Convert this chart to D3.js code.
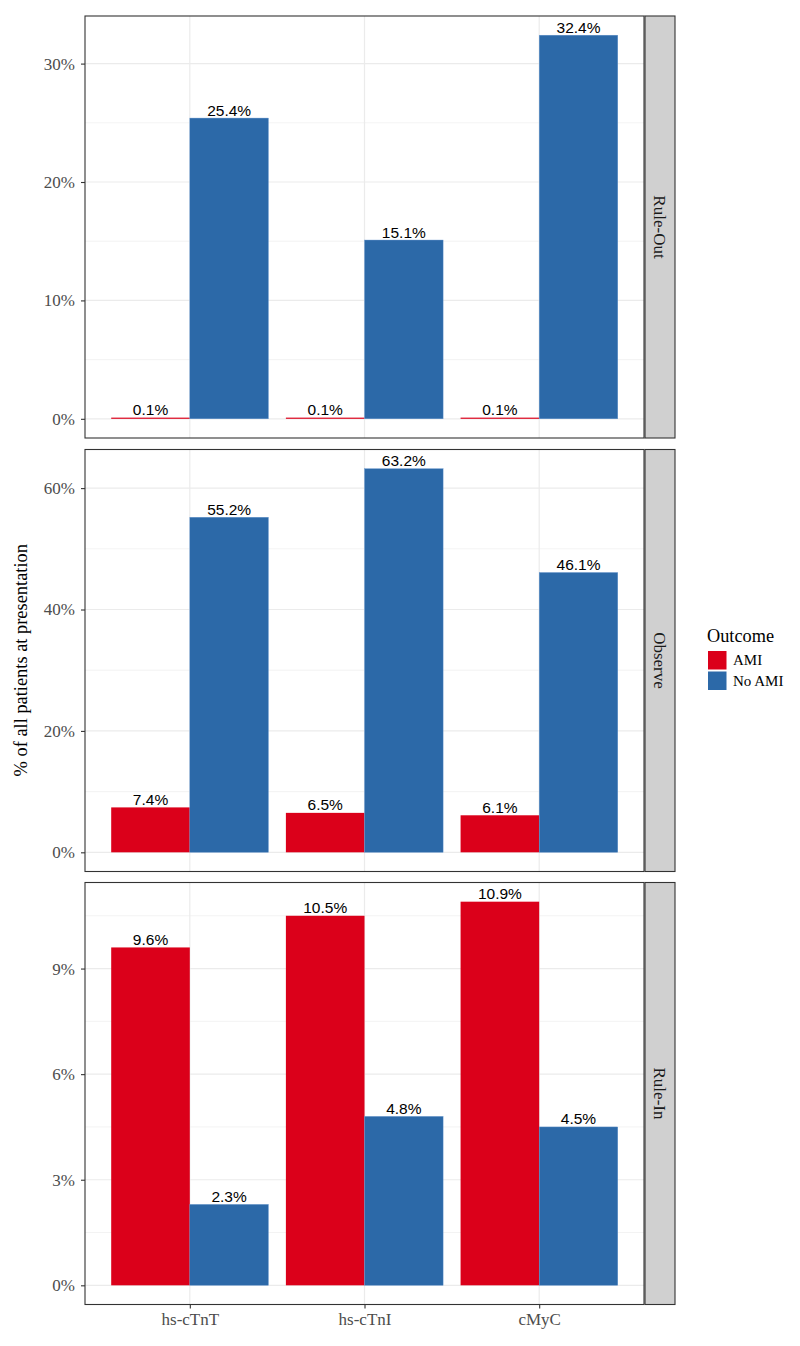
<!DOCTYPE html>
<html><head><meta charset="utf-8">
<script src="https://cdn.jsdelivr.net/npm/d3@7"></script>
<style>body{margin:0;background:#fff}</style>
</head><body>
<script>
const categories = ["hs-cTnT", "hs-cTnI", "cMyC"];
const panels = ["Rule-Out", "Observe", "Rule-In"];
const outcomes = ["AMI", "No AMI"];
const ruleOutAMI = [0.1, 0.1, 0.1];
const ruleOutNoAMI = [25.4, 15.1, 32.4];
const observeAMI = [7.4, 6.5, 6.1];
const observeNoAMI = [55.2, 63.2, 46.1];
const ruleInAMI = [9.6, 10.5, 10.9];
const ruleInNoAMI = [2.3, 4.8, 4.5];
const majorTicks = [[0, 10, 20, 30], [0, 20, 40, 60], [0, 3, 6, 9]];
const minorTicks = [[5, 15, 25], [10, 30, 50], [1.5, 4.5, 7.5, 10.5]];
const colors = ["#DB001A", "#2C69A8"];

const panelData = [
  [ruleOutAMI, ruleOutNoAMI],
  [observeAMI, observeNoAMI],
  [ruleInAMI, ruleInNoAMI]
];

const W = 800, H = 1346;
const serif = "Liberation Serif, Times New Roman, serif";
const svg = d3.select("body").append("svg").attr("width", W).attr("height", H);
const left = 85, right = 644, stripW = 31;
const panelTops = [16, 449.5, 882.5];
const panelH = 422;

// ggplot discrete: expand 0.6 units each side
const unit = (right - left) / 3.2;
const xc = d3.scalePoint().domain(categories).range([left + 0.6 * unit, right - 0.6 * unit]);
const barW = 0.45 * unit;

panelData.forEach((series, pi) => {
  const top = panelTops[pi];
  const maxV = d3.max(series.flat());
  const ex = maxV * 0.05;
  const y = d3.scaleLinear().domain([-ex, maxV + ex]).range([top + panelH, top]);
  const g = svg.append("g");
  g.append("rect").attr("x", left).attr("y", top).attr("width", right - left).attr("height", panelH).attr("fill", "#fff");
  g.selectAll(".minor").data(minorTicks[pi]).join("line")
    .attr("x1", left).attr("x2", right).attr("y1", d => y(d)).attr("y2", d => y(d))
    .attr("stroke", "#ebebeb").attr("stroke-width", 0.6);
  g.selectAll(".major").data(majorTicks[pi]).join("line")
    .attr("x1", left).attr("x2", right).attr("y1", d => y(d)).attr("y2", d => y(d))
    .attr("stroke", "#ebebeb").attr("stroke-width", 1.2);
  g.selectAll(".vgrid").data(categories).join("line")
    .attr("x1", d => xc(d)).attr("x2", d => xc(d)).attr("y1", top).attr("y2", top + panelH)
    .attr("stroke", "#ebebeb").attr("stroke-width", 1.2);
  series.forEach((vals, si) => {
    g.selectAll(".bar" + si).data(vals).join("rect")
      .attr("x", (d, i) => xc(categories[i]) + (si === 0 ? -barW : 0))
      .attr("width", barW)
      .attr("y", d => y(d))
      .attr("height", d => y(0) - y(d))
      .attr("fill", colors[si])
      .attr("stroke", si === 1 ? "#6a9ad0" : "none").attr("stroke-width", 0.4);
    g.selectAll(".lab" + si).data(vals).join("text")
      .attr("x", (d, i) => xc(categories[i]) + (si === 0 ? -barW / 2 : barW / 2))
      .attr("y", d => y(d) - 2.5)
      .attr("text-anchor", "middle")
      .attr("font-family", "Liberation Sans, Arial, sans-serif")
      .attr("font-size", 15.5).attr("fill", "#000")
      .text(d => d.toFixed(1) + "%");
  });
  g.append("rect").attr("x", left).attr("y", top).attr("width", right - left).attr("height", panelH)
    .attr("fill", "none").attr("stroke", "#333").attr("stroke-width", 1.1);
  g.append("rect").attr("x", right + 1).attr("y", top).attr("width", stripW - 1).attr("height", panelH)
    .attr("fill", "#d0d0d0").attr("stroke", "#333").attr("stroke-width", 1.1);
  g.append("text")
    .attr("transform", `translate(${right + 1 + (stripW - 1) / 2},${top + panelH / 2}) rotate(90)`)
    .attr("text-anchor", "middle").attr("dy", "0.33em")
    .attr("font-family", serif).attr("font-size", 17).attr("fill", "#1a1a1a")
    .text(panels[pi]);
  const ax = g.append("g").attr("transform", `translate(${left},0)`)
    .call(d3.axisLeft(y).tickValues(majorTicks[pi]).tickFormat(d => d + "%").tickSize(4).tickPadding(6));
  ax.select(".domain").remove();
  ax.selectAll(".tick line").attr("stroke", "#333").attr("stroke-width", 1.1);
  ax.selectAll(".tick text").attr("font-family", serif)
    .attr("font-size", 17).attr("fill", "#4d4d4d");
  if (pi === 2) {
    const xa = g.append("g").attr("transform", `translate(0,${top + panelH})`)
      .call(d3.axisBottom(xc).tickSize(4).tickPadding(4));
    xa.select(".domain").remove();
    xa.selectAll(".tick line").attr("stroke", "#333").attr("stroke-width", 1.1);
    xa.selectAll(".tick text").attr("font-family", serif)
      .attr("font-size", 17).attr("fill", "#4d4d4d");
  }
});

svg.append("text")
  .attr("transform", `translate(27,${(panelTops[0] + panelTops[2] + panelH) / 2}) rotate(-90)`)
  .attr("text-anchor", "middle")
  .attr("font-family", serif).attr("font-size", 18.4).attr("fill", "#000")
  .text("% of all patients at presentation");

const lg = svg.append("g").attr("transform", "translate(707,0)");
lg.append("text").attr("x", 0).attr("y", 642)
  .attr("font-family", serif).attr("font-size", 18.3).attr("fill", "#000")
  .text("Outcome");
outcomes.forEach((o, i) => {
  lg.append("rect").attr("x", 1).attr("y", 651 + i * 20.5).attr("width", 18.5).attr("height", 18.5).attr("fill", colors[i]);
  lg.append("text").attr("x", 26).attr("y", 660 + i * 20.5).attr("dy", "0.35em")
    .attr("font-family", serif).attr("font-size", 15).attr("fill", "#000")
    .text(o);
});
</script>
</body></html>
